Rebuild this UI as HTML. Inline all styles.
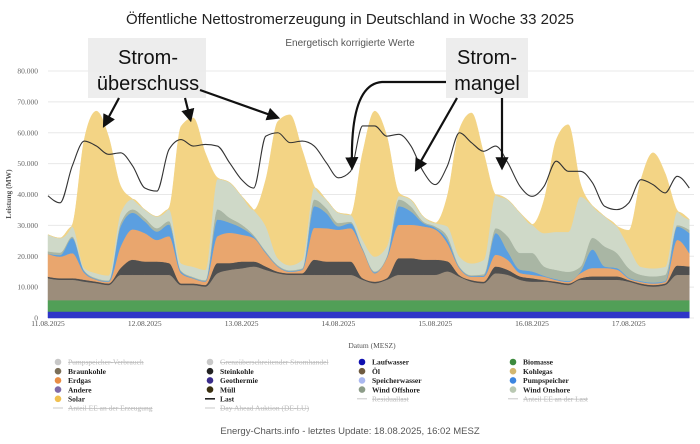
<!DOCTYPE html>
<html><head><meta charset="utf-8">
<style>
html,body{margin:0;padding:0;background:#fff;width:700px;height:444px;overflow:hidden}
svg{display:block}
</style></head>
<body>
<svg id="chart" width="700" height="444" viewBox="0 0 700 444">
  <text x="350" y="24" text-anchor="middle" font-family="Liberation Sans, sans-serif" font-size="15" fill="#222">Öffentliche Nettostromerzeugung in Deutschland in Woche 33 2025</text>
  <text x="350" y="46" text-anchor="middle" font-family="Liberation Sans, sans-serif" font-size="10" fill="#555">Energetisch korrigierte Werte</text>
  <g id="grid"></g>
  <g id="areas"></g>
  <g id="lines"></g>
  <g id="yaxis"></g>
  <g id="xaxis"></g>
  <text transform="translate(11,194) rotate(-90)" text-anchor="middle" font-family="Liberation Serif, serif" font-size="7.5" font-weight="bold" fill="#555">Leistung (MW)</text>
  <text x="372" y="348" text-anchor="middle" font-family="Liberation Serif, serif" font-size="7.5" fill="#555">Datum (MESZ)</text>
  <g id="legend"></g>
  <text x="350" y="434" text-anchor="middle" font-family="Liberation Sans, sans-serif" font-size="9.5" fill="#555">Energy-Charts.info - letztes Update: 18.08.2025, 16:02 MESZ</text>

  <g>
    <rect x="88" y="38" width="118" height="60" fill="#ececec" opacity="0.92"/>
    <text x="148" y="64" text-anchor="middle" font-family="Liberation Sans, sans-serif" font-size="20" fill="#111">Strom-</text>
    <text x="148" y="90" text-anchor="middle" font-family="Liberation Sans, sans-serif" font-size="20" fill="#111">überschuss</text>
  </g>
  <g>
    <rect x="446" y="38" width="82" height="60" fill="#ececec" opacity="0.92"/>
    <text x="487" y="64" text-anchor="middle" font-family="Liberation Sans, sans-serif" font-size="20" fill="#111">Strom-</text>
    <text x="487" y="90" text-anchor="middle" font-family="Liberation Sans, sans-serif" font-size="20" fill="#111">mangel</text>
  </g>
  <defs>
    <marker id="ah" markerWidth="6" markerHeight="6" refX="4" refY="3" orient="auto" markerUnits="strokeWidth">
      <path d="M0,0 L6,3 L0,6 z" fill="#111"/>
    </marker>
  </defs>
  <g stroke="#111" stroke-width="2.2" fill="none">
    <line x1="119" y1="98" x2="105" y2="124" marker-end="url(#ah)"/>
    <line x1="185" y1="98" x2="190" y2="118" marker-end="url(#ah)"/>
    <line x1="200" y1="90" x2="276" y2="117" marker-end="url(#ah)"/>
    <path d="M446,82 L382,82 Q350,84 352,166" marker-end="url(#ah)"/>
    <line x1="457" y1="98" x2="417" y2="168" marker-end="url(#ah)"/>
    <line x1="502" y1="98" x2="502" y2="166" marker-end="url(#ah)"/>
  </g>
</svg>
<script>
// hours since 11.08.2025 00:00 (3h steps)
const hours = [0,3,6,9,12,15,18,21,24,27,30,33,36,39,42,45,48,51,54,57,60,63,66,69,72,75,78,81,84,87,90,93,96,99,102,105,108,111,114,117,120,123,126,129,132,135,138,141,144,147,150,153,156,159];
const laufwasser = [2100,2100,2100,2100,2100,2100,2100,2100,2100,2100,2100,2100,2100,2100,2100,2100,2100,2100,2100,2100,2100,2100,2100,2100,2100,2100,2100,2100,2100,2100,2100,2100,2100,2100,2100,2100,2100,2100,2100,2100,2100,2100,2100,2100,2100,2100,2100,2100,2100,2100,2100,2100,2100,2100];
const biomasse = [3700,3700,3700,3700,3700,3700,3700,3700,3700,3700,3700,3700,3700,3700,3700,3700,3700,3700,3700,3700,3700,3700,3700,3700,3700,3700,3700,3700,3700,3700,3700,3700,3700,3700,3700,3700,3700,3700,3700,3700,3700,3700,3700,3700,3700,3700,3700,3700,3700,3700,3700,3700,3700,3700];
const braunkohle = [7100,6600,6600,6000,5500,4900,8200,8200,8200,8200,8200,4900,4900,4400,8700,9800,10300,10900,9800,8700,8200,8200,8200,8200,8200,8200,6600,5500,6600,8200,8200,8200,8200,9300,7600,6000,5500,8700,8200,6600,6000,6000,5500,4900,6600,6600,6600,6600,6000,4900,4400,4900,8200,8200];
const steinkohle = [500,500,500,600,500,500,2200,4900,4300,4300,3800,500,500,500,3300,2200,2200,1600,1100,500,500,500,4900,4300,4300,4300,500,500,500,5400,5400,4900,4900,3300,500,500,500,2200,1600,1100,1100,500,500,500,500,1100,1100,1100,500,500,500,500,3000,2700];
const erdgas = [7400,7000,8100,2200,600,500,7000,9800,9200,7000,8700,3300,1600,1100,8700,9800,8700,7600,4300,1600,500,1100,10300,10800,10300,10800,9200,2700,6500,10800,10800,10800,9800,5900,2200,1100,1600,3800,3200,1100,1100,1100,500,500,1600,2700,2700,2200,500,500,500,500,8300,4300];
const pumpspeicher = [0,500,4900,500,200,200,6500,5400,3800,2700,3800,500,200,200,5400,3300,2200,500,300,200,200,200,7000,4900,1100,1600,300,300,300,6000,4300,1100,500,1100,300,200,300,7000,2700,1100,1100,300,300,300,500,6000,500,500,300,300,300,300,4300,6500];
const windOffshore = [800,800,500,300,300,300,1100,1100,1100,1100,1100,300,300,300,3300,1600,1100,500,300,300,300,300,2200,1600,1100,500,300,300,300,2200,1600,500,500,1100,300,300,500,1600,4900,5400,6000,3000,3000,3000,1600,3800,6500,4900,3000,2000,2000,2000,500,1100];
const windOnshore = [5400,4700,3200,800,1600,1600,3300,3300,2700,3800,3800,2400,3300,3300,9800,11400,9200,8100,8100,2200,1600,2700,3800,2700,3300,2200,2600,4800,3200,1100,2200,1600,1100,3200,3200,3800,4600,10800,11900,13000,9200,10800,12300,12900,22700,10300,9700,8700,6900,2600,2600,2600,4300,3300];
const solar = [0,0,500,41700,52500,45000,8700,0,0,0,500,44400,48200,37900,500,0,0,0,15200,44400,48700,35700,500,0,0,0,28200,47100,35700,1100,0,0,0,9800,41200,48700,34700,0,0,0,0,10800,29800,34700,4300,0,0,0,5400,28200,37400,30300,500,0];
const last = [39600,37300,49200,57300,55700,53000,53500,49200,42100,41100,54600,57800,55700,56200,55700,50300,44800,42100,58900,60000,56800,57300,55700,50300,45400,47500,62200,62200,58900,59500,55700,47500,43200,49200,60000,56800,54000,55700,50300,42700,39400,42700,50800,47500,47500,43800,36200,35100,37300,44800,43200,40500,45900,42100];
const yTicks = [0,10000,20000,30000,40000,50000,60000,70000,80000];
const yTickLabels = ["0","10.000","20.000","30.000","40.000","50.000","60.000","70.000","80.000"];
const dayTicks = [0,24,48,72,96,120,144];
const dayLabels = ["11.08.2025","12.08.2025","13.08.2025","14.08.2025","15.08.2025","16.08.2025","17.08.2025"];

const NS = "http://www.w3.org/2000/svg";
const X0 = 48, PX_PER_H = 96.8/24, Y0 = 318, PX_PER_MW = 247/80000;
const PLOT_R = 694;
function xs(h){ return X0 + h*PX_PER_H; }
function ys(v){ return Y0 - v*PX_PER_MW; }
function mk(tag, attrs){ const e = document.createElementNS(NS, tag); for (const k in attrs) e.setAttribute(k, attrs[k]); return e; }

function monotone(pts){
  const n = pts.length; const t = new Array(n).fill(0);
  const s = []; for (let i=0;i<n-1;i++) s.push((pts[i+1][1]-pts[i][1])/(pts[i+1][0]-pts[i][0]));
  for (let i=1;i<n-1;i++){
    const s0=s[i-1], s1=s[i];
    if (s0*s1<=0) { t[i]=0; continue; }
    const h0=pts[i][0]-pts[i-1][0], h1=pts[i+1][0]-pts[i][0];
    const p=(s0*h1+s1*h0)/(h0+h1);
    t[i]=(Math.sign(s0)+Math.sign(s1))*Math.min(Math.abs(s0),Math.abs(s1),0.5*Math.abs(p));
  }
  t[0]=n>1?(3*s[0]-t[1])/2:0; t[n-1]=n>1?(3*s[n-2]-t[n-2])/2:0;
  let d = "";
  for (let i=0;i<n-1;i++){
    const dx=(pts[i+1][0]-pts[i][0])/3;
    d += " C"+(pts[i][0]+dx).toFixed(2)+","+(pts[i][1]+dx*t[i]).toFixed(2)+" "+(pts[i+1][0]-dx).toFixed(2)+","+(pts[i+1][1]-dx*t[i+1]).toFixed(2)+" "+pts[i+1][0].toFixed(2)+","+pts[i+1][1].toFixed(2);
  }
  return d;
}

// grid + y axis
const grid = document.getElementById("grid"), yaxis = document.getElementById("yaxis");
yTicks.forEach((v,i)=>{
  const gl = mk("line",{x1:X0,x2:PLOT_R,y1:ys(v),y2:ys(v),stroke:"#e8e8e8","stroke-width":1});
  
  
  grid.appendChild(gl);
  const tl = mk("text",{x:38,y:ys(v)+2.5,"text-anchor":"end","font-family":"Liberation Serif, serif","font-size":"7.5",fill:"#666"});
  tl.textContent = yTickLabels[i];
  
  
  yaxis.appendChild(tl);
});
// x axis
const xaxis = document.getElementById("xaxis");
dayTicks.forEach((h,i)=>{
  const tl = mk("text",{x:xs(h),y:326,"text-anchor":"middle","font-family":"Liberation Serif, serif","font-size":"7.5",fill:"#555"});
  tl.textContent = dayLabels[i];
  
  
  xaxis.appendChild(tl);
});

// stacked areas
const series = [
  {name:"laufwasser", data:laufwasser, color:"#2f36c8"},
  {name:"biomasse", data:biomasse, color:"#519f57"},
  {name:"braunkohle", data:braunkohle, color:"#9c8d7b"},
  {name:"steinkohle", data:steinkohle, color:"#4f4f4f"},
  {name:"erdgas", data:erdgas, color:"#e9a66e"},
  {name:"pumpspeicher", data:pumpspeicher, color:"#5b9fe0"},
  {name:"wind-offshore", data:windOffshore, color:"#a9b6a4"},
  {name:"wind-onshore", data:windOnshore, color:"#cfd9c8"},
  {name:"solar", data:solar, color:"#f3d485"}
];
const areas = document.getElementById("areas");
let base = hours.map(()=>0);
series.forEach(s=>{
  const top = base.map((b,i)=>b+s.data[i]);
  const tp = hours.map((h,i)=>[xs(h),ys(top[i])]);
  const bp = hours.map((h,i)=>[xs(h),ys(base[i])]).reverse();
  const d = "M"+tp[0][0]+","+tp[0][1]+monotone(tp)+" L"+bp[0][0]+","+bp[0][1]+monotone(bp)+" Z";
  const p = mk("path",{d:d,fill:s.color,stroke:s.color,"stroke-width":0.5});
  
  
  areas.appendChild(p);
  base = top;
});
// Last line
const lp = hours.map((h,i)=>[xs(h),ys(last[i])]);
const line = mk("path",{d:"M"+lp[0][0]+","+lp[0][1]+monotone(lp),fill:"none",stroke:"#333","stroke-width":1.1});


document.getElementById("lines").appendChild(line);

// legend
const legendItems = [
  ["Pumpspeicher-Verbrauch","#c8c8c8",true,"dot"],["Grenzüberschreitender Stromhandel","#c8c8c8",true,"dot"],["Laufwasser","#1010b0",false,"dot"],["Biomasse","#3d8a3d",false,"dot"],
  ["Braunkohle","#7a6e58",false,"dot"],["Steinkohle","#222",false,"dot"],["Öl","#6e5a40",false,"dot"],["Kohlegas","#d3b770",false,"dot"],
  ["Erdgas","#e88d45",false,"dot"],["Geothermie","#3a2c8a",false,"dot"],["Speicherwasser","#aab8f0",false,"dot"],["Pumpspeicher","#3c85e0",false,"dot"],
  ["Andere","#7f6aa8",false,"dot"],["Müll","#3a3010",false,"dot"],["Wind Offshore","#8c9c88",false,"dot"],["Wind Onshore","#b9c8b2",false,"dot"],
  ["Solar","#f0c050",false,"dot"],["Last","#222",false,"line"],["Residuallast","#c8c8c8",true,"line"],["Anteil EE an der Last","#c8c8c8",true,"line"],
  ["Anteil EE an der Erzeugung","#c8c8c8",true,"line"],["Day Ahead Auktion (DE-LU)","#c8c8c8",true,"line"]
];
const colX = [58,210,362,513], rowY0 = 362, rowH = 9.2;
const legend = document.getElementById("legend");
legendItems.forEach((it,i)=>{
  const c = i%4, r = Math.floor(i/4);
  const x = colX[c], y = rowY0 + r*rowH;
  const g = mk("g",{});
  
  
  if (it[3]==="dot") g.appendChild(mk("circle",{cx:x,cy:y,r:3.3,fill:it[1]}));
  else g.appendChild(mk("line",{x1:x-5,x2:x+5,y1:y,y2:y,stroke:it[1],"stroke-width":it[2]?1:1.6}));
  const t = mk("text",{x:x+10,y:y+2.7,"font-family":"Liberation Serif, serif","font-size":"7.5","font-weight":it[2]?"normal":"bold",fill:it[2]?"#bbb":"#222"});
  if (it[2]) t.setAttribute("text-decoration","line-through");
  t.textContent = it[0];
  g.appendChild(t);
  legend.appendChild(g);
});
</script>
</body></html>
